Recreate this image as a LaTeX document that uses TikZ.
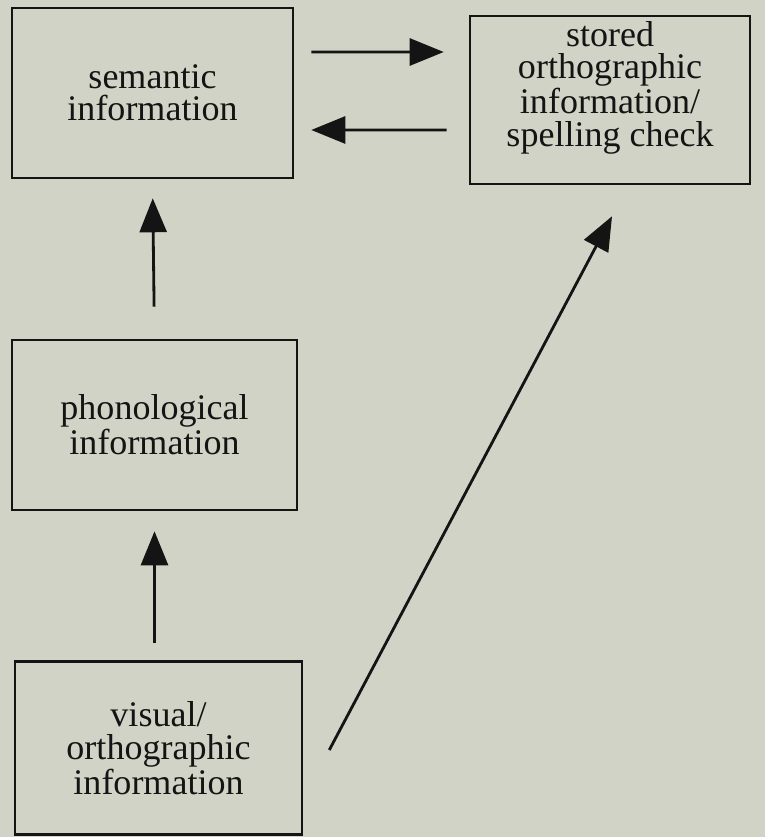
\documentclass[tikz,border=0pt]{standalone}
\usepackage{fontspec}
\setmainfont{Liberation Serif}
\usetikzlibrary{arrows.meta}
\definecolor{paper}{RGB}{208,211,197}
\definecolor{ink}{RGB}{20,20,20}
\tikzset{
  box/.style={draw=ink,line width=1.5pt,align=center,inner sep=0pt,
    font=\fontsize{20.5}{18.5}\selectfont,text=ink},
  arr/.style={-{Triangle[length=0.68cm,width=0.54cm]},draw=ink,line width=1.6pt}
}
\begin{document}
\begin{tikzpicture}[x=0.02cm,y=-0.02cm]
      \fill[paper] (0,0) rectangle (765,837);
      \node[box,minimum width=5.62cm,minimum height=3.4cm](sem) at (152.5,93) {semantic\\information};
      \node[box,minimum width=5.6cm,minimum height=3.36cm](store) at (610,100) {stored\\orthographic\\information/\\spelling check\\ \mbox{}};
      \node[box,minimum width=5.7cm,minimum height=3.4cm](phon) at (154.5,425) {phonological\\information};
      \node[box,minimum width=5.74cm,minimum height=3.46cm](vis) at (158.5,748) {visual/\\orthographic\\information};
      \draw[arr,shorten <=0.34cm,shorten >=0.5cm] ([yshift=0.82cm]sem.east) -- ([yshift=0.96cm]store.west);
      \draw[arr,shorten <=0.44cm,shorten >=0.34cm] ([yshift=-0.6cm]store.west) -- ([yshift=-0.74cm]sem.east);
      \draw[arr,shorten <=0.64cm,shorten >=0.38cm] (phon.north) -- (sem.south);
      \draw[arr,shorten <=0.34cm,shorten >=0.4cm] (vis.north -| phon.south) -- (phon.south);
      \draw[arr] ([xshift=0.52cm,yshift=-0.04cm]vis.east) -- ([xshift=0.04cm,yshift=-0.62cm]store.south);
    \end{tikzpicture}
\end{document}
